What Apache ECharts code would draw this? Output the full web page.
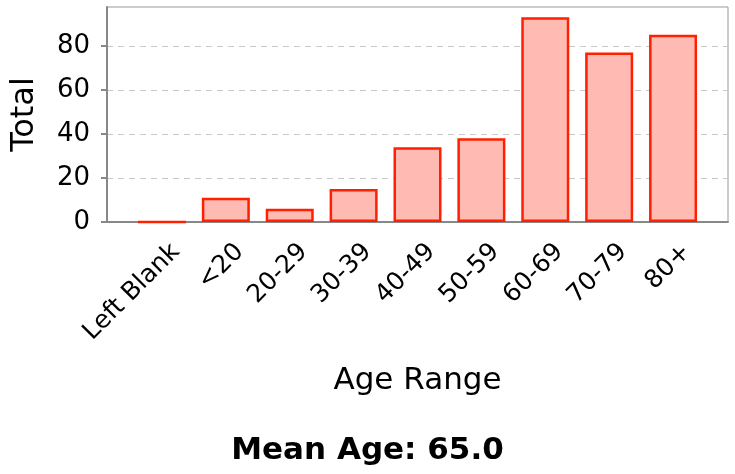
<!DOCTYPE html>
<html>
<head>
<meta charset="utf-8">
<script src="https://cdn.jsdelivr.net/npm/echarts@6/dist/echarts.min.js"></script>
<style>
  html, body { margin: 0; padding: 0; background: #fff; }
  #chart { width: 735px; height: 474px; }
</style>
</head>
<body>
<div id="chart"></div>
<script>
  var categories = ['Left Blank', '<20', '20-29', '30-39', '40-49', '50-59', '60-69', '70-79', '80+'];
  var totals = [0, 11, 6, 15, 34, 38, 93, 77, 85];
  var yTicks = [0, 20, 40, 60, 80];
  var meanAge = '65.0';

  var yMax = 93 * 1.05;
  var font = 'DejaVu Sans, Verdana, sans-serif';

  var myChart = echarts.init(document.getElementById('chart'));
  myChart.setOption({
    animation: false,
    title: {
      text: 'Mean Age: ' + meanAge,
      left: 'center',
      top: 430,
      textStyle: { fontFamily: font, fontSize: 31, fontWeight: 'bold', color: '#000' }
    },
    grid: [
      // frame + value scale
      { left: 107, right: 7, top: 7, bottom: 252, show: true, borderColor: '#999', borderWidth: 1 },
      // bars sit inside the frame with some padding
      { left: 130, right: 30, top: 7, bottom: 252 },
      // tick labels, nudged a little to the right of the bars
      { left: 144, right: 16, top: 7, bottom: 252 }
    ],
    xAxis: [
      {
        gridIndex: 0,
        type: 'value',
        min: 0,
        max: 1,
        axisLine: { show: true, lineStyle: { color: '#888', width: 2 } },
        axisTick: { show: false },
        axisLabel: { show: false },
        splitLine: { show: false },
        name: 'Age Range',
        nameLocation: 'middle',
        nameGap: 143,
        nameTextStyle: { fontFamily: font, fontSize: 31, color: '#000' }
      },
      {
        gridIndex: 1,
        type: 'category',
        data: categories,
        axisLine: { show: false },
        axisTick: { show: false },
        axisLabel: { show: false }
      },
      {
        gridIndex: 2,
        type: 'category',
        data: categories,
        axisLine: { show: false },
        axisTick: { show: false },
        axisLabel: {
          rotate: 45,
          interval: 0,
          margin: 26,
          fontFamily: font,
          fontSize: 25,
          color: '#000'
        }
      }
    ],
    yAxis: [
      {
        gridIndex: 0,
        type: 'value',
        min: 0,
        max: yMax,
        axisLine: { show: true, lineStyle: { color: '#888', width: 2 } },
        axisTick: { show: true, length: 6, customValues: yTicks, lineStyle: { color: '#888', width: 2 } },
        axisLabel: {
          margin: 17,
          customValues: yTicks,
          fontFamily: font,
          fontSize: 26,
          color: '#000'
        },
        splitLine: { show: true, lineStyle: { color: '#c8c8c8', type: [6, 5], width: 1 } },
        name: 'Total',
        nameLocation: 'middle',
        nameGap: 66,
        nameTextStyle: { fontFamily: font, fontSize: 32, color: '#000' }
      },
      { gridIndex: 1, type: 'value', min: 0, max: yMax, show: false },
      { gridIndex: 2, type: 'value', min: 0, max: yMax, show: false }
    ],
    series: [{
      type: 'bar',
      xAxisIndex: 1,
      yAxisIndex: 1,
      data: totals,
      barWidth: 48,
      itemStyle: {
        color: '#ffbab3',
        borderColor: '#ff2000',
        borderWidth: 2.5
      }
    }]
  });
</script>
</body>
</html>
